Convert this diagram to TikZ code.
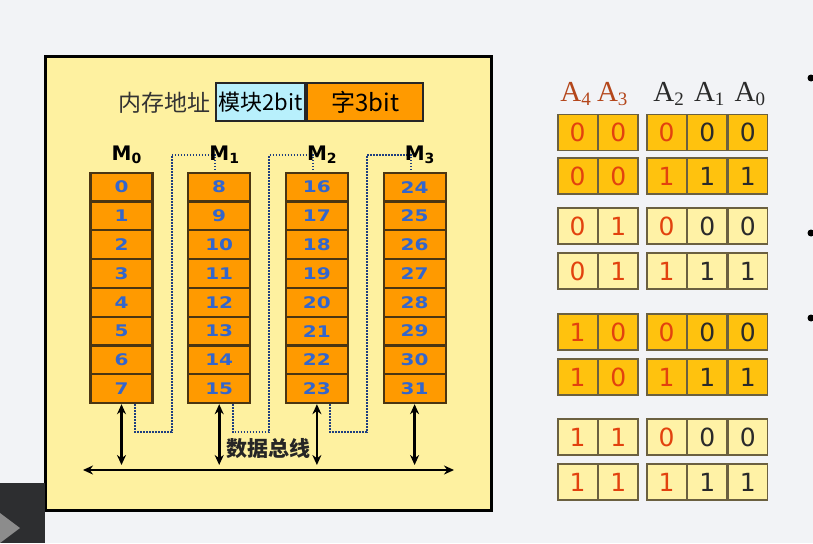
\documentclass[tikz,border=0pt]{standalone}
\usepackage{fontspec}
\setmainfont{DejaVu Sans}
\newfontfamily\cjk{Noto Sans CJK SC}
\newfontfamily\hdfont{Liberation Serif}
\usepackage{tikz}
\usetikzlibrary{calc,positioning,arrows.meta}

\definecolor{pagebg}{HTML}{F2F3F6}
\definecolor{panel}{HTML}{FEF1A0}
\definecolor{memorange}{HTML}{FF9A00}
\definecolor{cellline}{HTML}{4A3512}
\definecolor{numblue}{HTML}{3366CC}
\definecolor{linkblue}{HTML}{1F3F80}
\definecolor{fieldcyan}{HTML}{B8F0FC}
\definecolor{bitorange}{HTML}{FFC20E}
\definecolor{bitpale}{HTML}{FFF2A6}
\definecolor{bitline}{HTML}{6B6040}
\definecolor{bitred}{HTML}{E2420E}
\definecolor{hdrbrown}{HTML}{B4461B}
\definecolor{hdrgray}{HTML}{2A2A2A}
\definecolor{playgray}{HTML}{2D2E30}

\newcommand\msub[1]{\raisebox{-3pt}{\fontsize{14}{14}\selectfont#1}}
\newcommand\asub[1]{\raisebox{-3.5pt}{\fontsize{19}{19}\selectfont#1}}
\newcommand\wide[1]{\scalebox{1.25}[1]{#1}}

\begin{document}
\begin{tikzpicture}[x=1pt, y=-1pt,
        memcell/.style={rectangle, minimum width=62pt, minimum height=28.8pt, inner sep=0pt,
            draw=cellline, line width=2.2pt, fill=memorange, text=numblue,
            font=\fontsize{16}{16}\selectfont\bfseries},
        mlabel/.style={inner sep=1pt, font=\fontsize{20}{20}\selectfont\bfseries},
        link/.style={draw=linkblue, line width=2pt, dash pattern=on 1.5pt off 1.5pt},
        buswire/.style={line width=2.8pt, {Stealth[length=10pt,width=9pt]}-{Stealth[length=10pt,width=9pt]}},
        field/.style={rectangle, minimum height=37.4pt, inner sep=0pt, draw=black!85, line width=2pt,
            font=\cjk\fontsize{22}{22}\selectfont},
        bitcell/.style={rectangle, minimum width=39.3pt, minimum height=36pt, inner sep=0pt,
            draw=bitline, line width=1.3pt, font=\fontsize{25}{25}\selectfont},
        rowdark/.style={fill=bitorange},
        rowlight/.style={fill=bitpale},
        hdr/.style={inner sep=0pt, font=\hdfont\fontsize{29}{29}\selectfont},
    ]
    \useasboundingbox (0,0) rectangle (813,543);
    \fill[pagebg] (0,0) rectangle (813,543);

    % memory panel
    \draw[fill=panel, line width=3pt] (45,57) rectangle (491,510);
    \node[font=\cjk\fontsize{23}{23}\selectfont, text=black!80] (addr) at (164,103) {内存地址};
    \node[field, fill=fieldcyan, minimum width=89.3pt, anchor=west] (blk) at (215,102) {模块2bit};
    \node[field, fill=memorange, minimum width=115.7pt, right=0pt of blk,
        font=\cjk\fontsize{24}{24}\selectfont] (word) {字3bit};

    \foreach \i in {0,...,3}{
        \foreach \k in {0,...,7}{
            \pgfmathtruncatemacro\n{8*\i+\k}
            \node[memcell] (c\i-\k) at ({121.5+97.7*\i},{187.1+28.8*\k}) {\wide{\n}};
        }
    }

    % dotted address flow from one module to the next
    \foreach \i/\j in {0/1,1/2,2/3}
        \draw[link] ($(c\i-7.south)+(13.5,0)$) |- ($(c\i-7.south)+(50,28)$)
            |- ($(c\j-0.north)+(-4,-16.5)$) -- ($(c\j-0.north)+(-4,0)$);

    \foreach \i in {0,...,3}
        \node[mlabel, above=7pt of c\i-0, xshift=5pt] (m\i) {M\msub{\i}};

    % data bus
    \coordinate (busL) at (83,470);
    \coordinate (busR) at (454,470);
    \draw[buswire] (busL) -- (busR);
    \foreach \i in {0,...,3}
        \draw[buswire, shorten >=5pt] (c\i-7.south) -- (c\i-7.south |- busL);
    \node[font=\cjk\fontsize{21}{21}\selectfont\bfseries, text=black!85, inner sep=1pt] (busname) at (268,449) {数据总线};

    % address bit table
    \foreach \r/\y/\a/\b/\c/\f in {1/132.3/0/0/0/rowdark, 2/176/0/0/1/rowdark,
            3/226/0/1/0/rowlight, 4/271/0/1/1/rowlight, 5/332/1/0/0/rowdark,
            6/377/1/0/1/rowdark, 7/437/1/1/0/rowlight, 8/482/1/1/1/rowlight}{
        \node[bitcell, \f, text=bitred] (t\r-4) at (577.65,\y) {\a};
        \node[bitcell, \f, text=bitred, right=0pt of t\r-4] (t\r-3) {\b};
        \node[bitcell, \f, text=bitred] (t\r-2) at (666.65,\y) {\c};
        \node[bitcell, \f, text=hdrgray, right=0pt of t\r-2] (t\r-1) {\c};
        \node[bitcell, \f, text=hdrgray, right=0pt of t\r-1] (t\r-0) {\c};
    }
    \node[hdr, text=hdrbrown, above=8pt of t1-4, xshift=-2pt] (h4) {A\asub{4}};
    \node[hdr, text=hdrbrown, above=8pt of t1-3, xshift=-6pt] (h3) {A\asub{3}};
    \foreach \j in {2,1,0}
        \node[hdr, text=hdrgray, above=8pt of t1-\j, xshift=2pt] (h\j) {A\asub{\j}};

    % cut-off bullets and player button
    \foreach \y in {78,233,318}
        \fill (811,\y) circle[radius=3.5pt];
    \fill[playgray] (0,483) rectangle (45,543);
    \fill[black!45] (0,513) -- (20,528) -- (0,543) -- cycle;
\end{tikzpicture}
\end{document}
